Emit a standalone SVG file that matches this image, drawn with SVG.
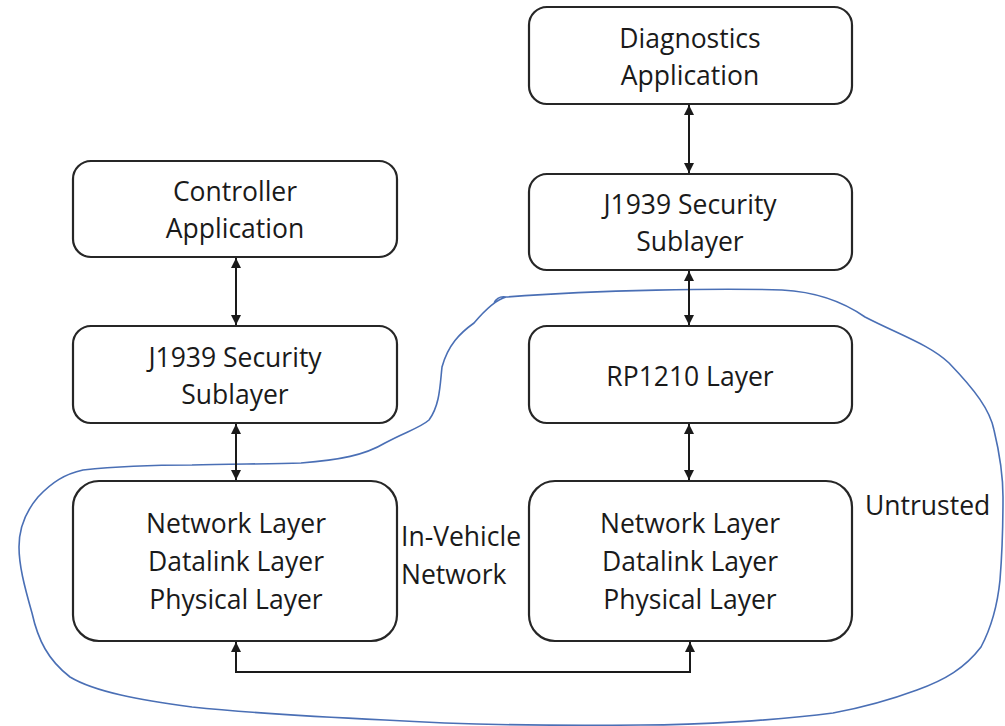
<svg xmlns="http://www.w3.org/2000/svg" width="1005" height="726" viewBox="0 0 1005 726">
<defs>
<style>
.box{fill:#fff;stroke:#262626;stroke-width:2.2}
.t{font-family:"Open Sans","Liberation Sans",sans-serif;font-size:26.5px;fill:#1a1a1a;text-anchor:middle}
.tl{font-family:"Open Sans","Liberation Sans",sans-serif;font-size:26.5px;fill:#1a1a1a}
.c{fill:none;stroke:#1a1a1a;stroke-width:2}
</style>
<marker id="ah" viewBox="0 0 10 10" refX="10" refY="5" markerWidth="10" markerHeight="10" markerUnits="userSpaceOnUse" orient="auto-start-reverse">
<path d="M0,0 L10,5 L0,10 z" fill="#1a1a1a"/>
</marker>
</defs>
<rect width="1005" height="726" fill="#fff"/>
<g id="trust-boundary">
<path d="M506,297 C600,290 720,288 782,290 C820,292 845,303 865,317 C900,335 930,345 949,363 C975,390 990,410 994,430 C1000,455 1003,475 1003,497 C1003,530 1002,555 1000,580 C997,610 990,630 981,647 C965,668 945,680 917,690 C890,700 860,708 833,713 C780,720 700,725 641,725 C550,726 450,724 385,720 C300,716 240,712 192,707 C140,700 95,692 70,677 C48,660 38,640 32,613 C24,585 19,565 19,547 C19,525 27,510 38,497 C52,482 65,474 83,470 C120,466 160,465 192,465 C230,464 270,464 301,463 C340,460 365,455 385,443 C405,432 420,428 429,420 C440,405 440,385 442,367 C448,345 460,333 474,323 C485,310 495,300 506,297 C500,296 496,299 494,303" fill="none" stroke="#4a6fb5" stroke-width="1.6"/>
</g>
<g id="connectors">
<line class="c" x1="236" y1="258" x2="236" y2="325" marker-start="url(#ah)" marker-end="url(#ah)"/>
<line class="c" x1="236" y1="424" x2="236" y2="480" marker-start="url(#ah)" marker-end="url(#ah)"/>
<line class="c" x1="689" y1="105" x2="689" y2="173" marker-start="url(#ah)" marker-end="url(#ah)"/>
<line class="c" x1="689" y1="271" x2="689" y2="325" marker-start="url(#ah)" marker-end="url(#ah)"/>
<line class="c" x1="689" y1="424" x2="689" y2="480" marker-start="url(#ah)" marker-end="url(#ah)"/>
<polyline class="c" points="236,642 236,672 690,672 690,642" marker-start="url(#ah)" marker-end="url(#ah)"/>
</g>
<g id="controller-app">
<rect class="box" x="73" y="161" width="324" height="96" rx="18"/>
<text class="t" x="235" y="201">Controller</text>
<text class="t" x="235" y="238">Application</text>
</g>
<g id="j1939-left">
<rect class="box" x="73" y="326" width="324" height="97" rx="18"/>
<text class="t" x="235" y="367">J1939 Security</text>
<text class="t" x="235" y="404">Sublayer</text>
</g>
<g id="net-left">
<rect class="box" x="73" y="481" width="324" height="160" rx="26"/>
<text class="t" x="236" y="533">Network Layer</text>
<text class="t" x="236" y="571">Datalink Layer</text>
<text class="t" x="236" y="609">Physical Layer</text>
</g>
<g id="diag-app">
<rect class="box" x="529" y="7" width="323" height="97" rx="18"/>
<text class="t" x="690" y="48">Diagnostics</text>
<text class="t" x="690" y="85">Application</text>
</g>
<g id="j1939-right">
<rect class="box" x="529" y="174" width="323" height="96" rx="18"/>
<text class="t" x="690" y="214">J1939 Security</text>
<text class="t" x="690" y="251">Sublayer</text>
</g>
<g id="rp1210">
<rect class="box" x="529" y="326" width="323" height="97" rx="18"/>
<text class="t" x="690" y="386">RP1210 Layer</text>
</g>
<g id="net-right">
<rect class="box" x="529" y="481" width="323" height="160" rx="26"/>
<text class="t" x="690" y="533">Network Layer</text>
<text class="t" x="690" y="571">Datalink Layer</text>
<text class="t" x="690" y="609">Physical Layer</text>
</g>
<g id="in-vehicle-label">
<text class="tl" x="401" y="546">In-Vehicle</text>
<text class="tl" x="401" y="584">Network</text>
</g>
<g id="untrusted-label">
<text class="tl" x="865" y="515">Untrusted</text>
</g>
</svg>
